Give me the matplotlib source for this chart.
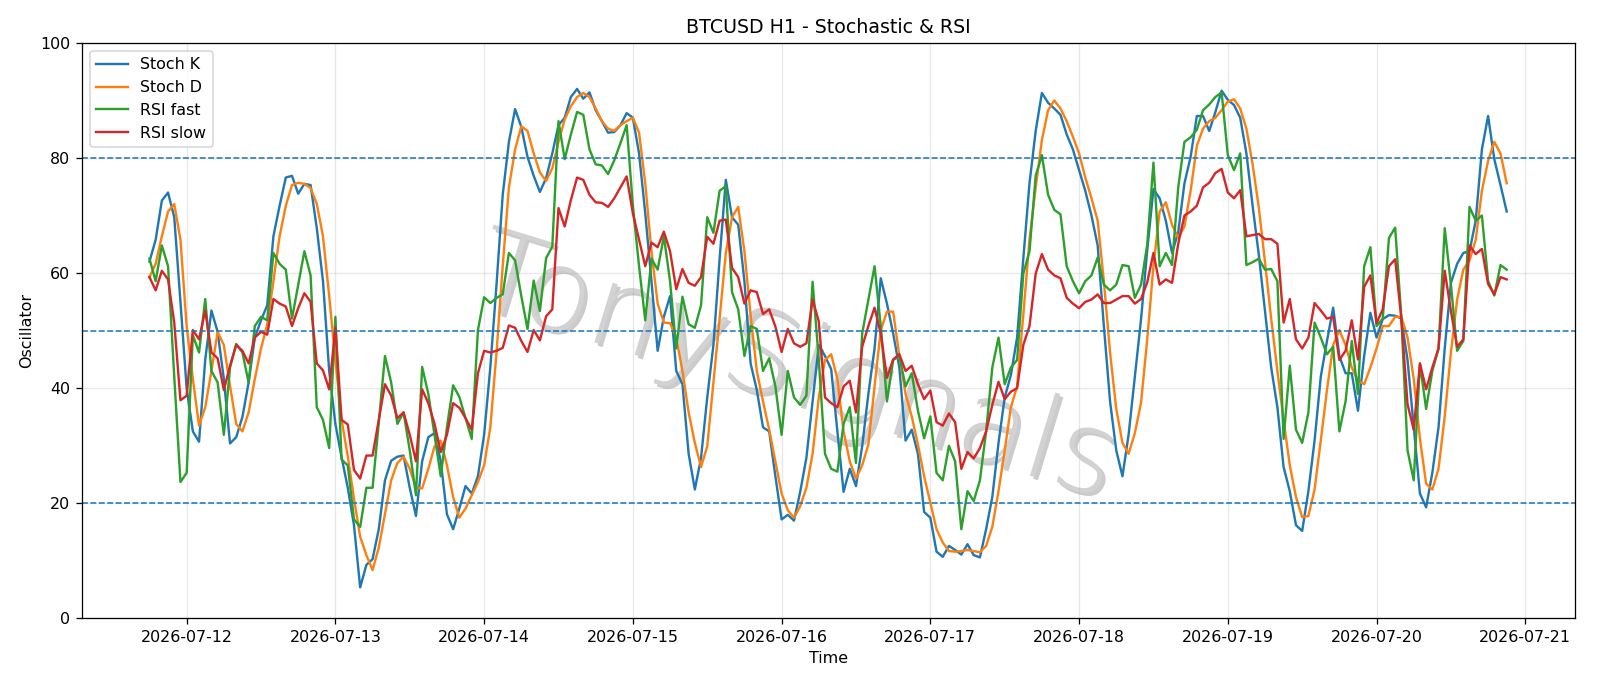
import matplotlib
matplotlib.use("Agg")
import matplotlib.pyplot as plt
import matplotlib.dates as mdates
import matplotlib.patheffects as pe
from matplotlib import font_manager
import pandas as pd

title = "BTCUSD H1 - Stochastic & RSI"
start_time = "2026-07-11 18:00"
n_points = 220

stoch_k = [
    62, 65.8, 72.6, 74, 69.7, 55, 40, 32.5, 30.7, 45,
    53.5, 49.8, 41.6, 30.4, 31.5, 35, 41, 48.8, 51.8, 54.4,
    66.4, 71.7, 76.6, 76.9, 73.8, 75.5, 75.3, 67.8, 58.6, 43,
    33.8, 28, 22.7, 16.2, 5.4, 9.3, 10.3, 15.5, 24, 27.4,
    28.1, 28.3, 22.7, 17.8, 27.3, 31.5, 32.2, 27.3, 18.1, 15.5,
    19.1, 23, 21.7, 24.7, 31.9, 43.6, 58, 73.6, 82.8, 88.5,
    85.4, 80.2, 76.9, 74.1, 76.5, 80.8, 85.7, 87, 90.6, 92,
    90.3, 91.4, 88.3, 86.4, 84.4, 84.5, 85.7, 87.8, 87, 80.8,
    70.4, 58.6, 46.5, 52.4, 56, 43, 40.7, 28.6, 22.4, 27.9,
    38.4, 47.5, 62.5, 76.2, 69.7, 68.4, 58.6, 44.3, 39.7, 33.2,
    32.5, 24.7, 17.2, 18, 17, 22, 27.9, 37.7, 47.5, 45.6,
    43.3, 32.5, 22, 26, 23, 29.9, 39, 46.9, 59.1, 54.7,
    49.5, 43.6, 30.9, 32.8, 28.6, 18.5, 17.5, 11.6, 10.7, 12.6,
    11.9, 11.1, 12.9, 11, 10.6, 15.5, 21.1, 30.5, 38.4, 42.3,
    48.8, 62.5, 75.6, 84.7, 91.3, 89.6, 88.6, 87.5, 84.1, 81.5,
    77.9, 74.3, 70, 64.8, 50.8, 37.7, 29.2, 24.7, 32, 42,
    52, 64, 74.6, 73, 69.1, 63.5, 67.1, 75.6, 80.2, 87.3,
    87.3, 84.7, 88, 91.7, 90.1, 89.2, 87, 80.8, 71.7, 63.2,
    53.4, 43.6, 36.7, 26.3, 22.1, 16.2, 15.2, 22.1, 30.9, 42,
    48.2, 54, 45.6, 42.6, 42.6, 36.1, 45.6, 53.1, 48.8, 52,
    52.7, 52.6, 52.1, 44.9, 33.2, 21.7, 19.3, 25.3, 33.2, 46.9,
    58.3, 61.6, 63.5, 63.8, 69.1, 81.5, 87.3, 79.8, 75.3, 70.7,
]

stoch_d = [
    59.3, 61.6, 66.4, 70.7, 72, 65.8, 50.8, 41.6, 33.5, 36.7,
    43, 49.8, 47.5, 40.4, 33.8, 32.5, 35.8, 41.6, 46.9, 51.1,
    58.6, 66.4, 71.7, 75.3, 75.7, 75.5, 74.8, 72, 66.4, 56,
    44.9, 34.5, 28.2, 20.8, 14.2, 11, 8.4, 12.3, 18.1, 24,
    27, 28.1, 26, 22.7, 22.6, 26, 29.9, 30.9, 26.6, 21.1,
    17.5, 19.1, 21.4, 23.7, 26.6, 33.2, 46.2, 61.2, 74.9, 81.5,
    85.5, 84.7, 80.8, 77.5, 76, 78.2, 82.8, 86.7, 89, 90.6,
    91.3, 90.6, 88.6, 86.4, 85.1, 84.7, 85.7, 86.4, 87, 84.4,
    75.6, 63.8, 54.7, 51.4, 51.3, 48.8, 43, 35.8, 30.5, 26.3,
    29.9, 41, 52.1, 63.5, 69.7, 71.5, 63.8, 52.7, 43, 37.7,
    32.8, 27.3, 21.7, 18.8, 17.5, 19.5, 22.7, 28.6, 38.4, 44.9,
    45.9, 41.6, 32.5, 27.3, 24.3, 26.6, 30.2, 40.3, 50.1, 53.3,
    53.3, 45.6, 39, 35.1, 30.2, 24.7, 20.1, 15.5, 13.2, 11.7,
    11.6, 11.7, 11.9, 11.7, 11.5, 12.6, 15.9, 22.1, 29.2, 36.7,
    40.3, 52.7, 65.8, 74.9, 83.1, 88.3, 90, 88.6, 86.4, 83.7,
    80.8, 76.6, 73, 69.1, 58.6, 46.2, 36.4, 30.5, 28.6, 32.2,
    37.5, 48.5, 61.2, 70.7, 72.3, 68.4, 66.1, 68.1, 74.3, 82.1,
    85.1, 86.4, 87, 88.3, 89.8, 90.2, 88.6, 85.1, 78.9, 71.4,
    61.9, 52.1, 43, 34.5, 26.6, 21.1, 17.6, 17.8, 22.4, 30.9,
    39.7, 47.5, 50.1, 47.5, 43.6, 41.3, 40.7, 43.6, 46.9, 50.8,
    50.8, 52.4, 52.4, 48.8, 41.6, 31.2, 23.4, 22.4, 26, 35.1,
    46.2, 55.4, 60.6, 62.2, 65.8, 74.3, 79.5, 82.8, 80.8, 75.6,
]

rsi_fast = [
    62.5, 58.6, 64.8, 61.2, 42, 23.7, 25.3, 49.2, 46.2, 55.5,
    43, 41, 31.9, 43.6, 47.7, 46.2, 41, 50.8, 52.4, 51.8,
    63.5, 61.6, 60.6, 52.1, 58, 63.8, 59.6, 36.7, 34.5, 29.6,
    52.4, 27.6, 26.6, 17.2, 15.9, 22.7, 22.7, 34, 45.6, 41,
    33.8, 35.8, 29.2, 21.4, 43.7, 39, 31.9, 24.7, 33.2, 40.5,
    38.5, 34.8, 31.2, 50.1, 55.8, 54.8, 55.7, 56.3, 63.5, 62.2,
    56, 50.3, 58.7, 53.4, 62.6, 64.6, 86.4, 79.8, 84.1, 88,
    87.5, 81.5, 78.9, 78.7, 77.2, 79.6, 82.6, 85.7, 71.7, 61.2,
    51.8, 62.5, 60.6, 66.4, 58.6, 46.9, 55.9, 51.1, 50.5, 54.4,
    69.7, 67, 74.3, 75.1, 56.7, 53.7, 45.6, 50.8, 50.3, 43,
    45.2, 40.3, 31.9, 43, 38.4, 37.1, 38.7, 58.5, 44.9, 28.6,
    26, 25.5, 33.8, 36.7, 27, 49.5, 55.4, 61.2, 50.8, 37.7,
    44.9, 45.6, 40.3, 42.6, 36.1, 31.3, 35.1, 25.3, 24, 30,
    27.3, 15.5, 22.1, 20.4, 24, 32.5, 43.6, 48.8, 40.7, 43.6,
    44.9, 59.9, 63.8, 76.9, 80.5, 73.6, 71, 70.2, 61.2, 58.6,
    56.5, 58.6, 59.6, 62.7, 58, 57, 58, 61.4, 61.2, 55.7,
    58, 65, 79.2, 61.2, 63.5, 61.4, 74.9, 82.8, 83.6, 84.9,
    88.3, 89.3, 90.6, 91.4, 80.5, 77.9, 80.8, 61.4, 61.9, 62.5,
    60.6, 60.7, 58.6, 31.2, 43.9, 32.8, 30.5, 35.8, 51.4, 48.8,
    45.9, 47.2, 32.5, 37.7, 48.2, 39, 61.2, 64.5, 50.8, 52.1,
    66.1, 67.9, 52.4, 29.2, 24, 44.3, 36.4, 43, 46.9, 67.8,
    58, 46.5, 48.2, 71.5, 69.1, 70, 58.6, 56.1, 61.4, 60.6,
]

rsi_slow = [
    59.3, 57, 60.4, 58.9, 51.4, 37.9, 38.7, 50.1, 48.5, 53.5,
    46.2, 45.2, 39.7, 43.9, 47.5, 46.5, 44.3, 48.8, 49.8, 49.3,
    55.5, 54.7, 54.2, 50.8, 53.9, 56.5, 55, 44.3, 43.1, 39.8,
    50.5, 34.5, 33.7, 25.8, 24.3, 28.3, 28.3, 34.5, 40.7, 38.7,
    34.8, 35.8, 31.9, 27.3, 39.8, 37.4, 33.8, 28.9, 31.9, 37.4,
    36.6, 34.8, 32.8, 42.6, 46.5, 46.2, 46.5, 47, 50.9, 50.5,
    48.2, 46.3, 50.1, 48.3, 52.5, 53.7, 71.3, 68.1, 72.7, 76.6,
    76.2, 73.6, 72.3, 72.2, 71.5, 73, 74.9, 76.8, 70.4, 65.8,
    61.2, 65.3, 64.5, 67.2, 63.8, 57.2, 60.7, 58.3, 57.8, 59.3,
    66.3, 65.1, 69.1, 69.3, 60.9, 59.3, 54.7, 57, 56.7, 52.9,
    53.7, 50.7, 46.3, 50.3, 47.8, 47.2, 47.8, 55.4, 51.6, 38.4,
    37.4, 36.7, 40.3, 41.3, 35.8, 47.2, 50.8, 54, 49.5, 41.8,
    45, 45.9, 43, 43.9, 40.7, 38.1, 39.6, 34.1, 33.5, 35.6,
    34.1, 26, 28.9, 27.8, 29.6, 32.5, 37.1, 41.1, 38.1, 39.4,
    40, 47.5, 50.8, 59.9, 63.3, 60.6, 59.6, 59.1, 55.7, 54.7,
    53.9, 55, 55.4, 56.3, 54.8, 54.8, 55.4, 56, 56, 54.7,
    55.5, 58.4, 63.5, 58, 58.9, 58.3, 65.1, 70, 70.7, 71.7,
    74.9, 75.7, 77.4, 78.1, 74, 73, 74.4, 66.4, 66.6, 66.8,
    65.9, 65.9, 65.1, 51.4, 55.5, 48.5, 46.9, 48.8, 54.8, 53.5,
    52.1, 52.4, 44.9, 46.5, 51.8, 45, 57.6, 59.6, 51.3, 53.7,
    61.2, 62.4, 52.1, 37.2, 32.8, 44.3, 39.8, 43.6, 46.9, 60.4,
    53.4, 47.2, 48.5, 64.8, 63.3, 64.2, 58.1, 56.3, 59.3, 58.9,
]

levels = [80, 50, 20]
watermark = "TonySignals"

times = pd.date_range(start_time, periods=n_points, freq="h")


def _weight(w):
    if isinstance(w, str):
        return {"thin": 100, "hairline": 100, "ultralight": 200, "extralight": 200,
                "extra light": 200, "light": 300}.get(w.lower(), 400)
    return int(w)


def pick_thin_font():
    prefs = ["DejaVu Sans", "Lato", "Roboto", "Open Sans", "Inter", "Noto Sans",
             "Liberation Sans", "Noto Sans CJK SC", "Noto Sans CJK JP"]
    found = {}
    for f in font_manager.fontManager.ttflist:
        st = str(f.style).lower()
        if "italic" in st or "oblique" in st:
            continue
        w = _weight(f.weight)
        if w <= 300:
            cur = found.get(f.name)
            if cur is None or abs(w - 200) < abs(cur[0] - 200):
                found[f.name] = (w, f.fname)
    for fam in prefs:
        if fam in found:
            return font_manager.FontProperties(fname=found[fam][1]), True
    return font_manager.FontProperties(family="DejaVu Sans"), False


fig = plt.figure(figsize=(14, 6.0025), dpi=800 / 7)
ax = fig.add_axes([0.0510, 0.0985, 0.9331, 0.8390])

ax.plot(times, stoch_k, label="Stoch K", color="C0", lw=1.5)
ax.plot(times, stoch_d, label="Stoch D", color="C1", lw=1.5)
ax.plot(times, rsi_fast, label="RSI fast", color="C2", lw=1.5)
ax.plot(times, rsi_slow, label="RSI slow", color="C3", lw=1.5)

for lv in levels:
    ax.axhline(lv, linestyle="--", linewidth=1, color="C0")

ax.set_ylim(0, 100)
ax.xaxis.set_major_locator(mdates.DayLocator())
ax.xaxis.set_major_formatter(mdates.DateFormatter("%Y-%m-%d"))
ax.grid(True, alpha=0.3)
ax.set_title(title)
ax.set_xlabel("Time")
ax.set_ylabel("Oscillator")
ax.legend(loc="upper left")

fp, thin = pick_thin_font()
fp.set_size(72)
ax.text(0.478, 0.43, watermark, transform=ax.transAxes, fontproperties=fp,
        rotation=-17, ha="center", va="center",
        color="#d2d2d2" if thin else "#dcdcdc", alpha=1.0 if thin else 0.75, zorder=0,
        path_effects=[pe.withSimplePatchShadow(offset=(2, -2), shadow_rgbFace="#8c8c8c", alpha=0.45)])

fig.savefig("out.png", dpi=800 / 7)
